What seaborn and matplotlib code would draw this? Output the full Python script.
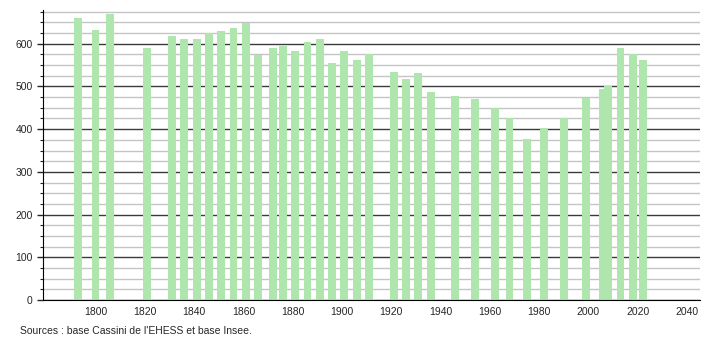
import matplotlib
matplotlib.use("Agg")
import matplotlib.pyplot as plt
import seaborn as sns
import pandas as pd
from matplotlib.ticker import MultipleLocator

years = [1793, 1800, 1806, 1821, 1831, 1836, 1841, 1846, 1851, 1856, 1861,
         1866, 1872, 1876, 1881, 1886, 1891, 1896, 1901, 1906, 1911,
         1921, 1926, 1931, 1936, 1946, 1954, 1962, 1968, 1975, 1982,
         1990, 1999, 2006, 2008, 2013, 2018, 2022]
population = [660, 633, 670, 590, 617, 612, 612, 626, 629, 637, 648,
              573, 591, 594, 584, 605, 612, 556, 584, 563, 577,
              534, 517, 531, 487, 477, 470, 450, 427, 376, 402,
              427, 472, 495, 500, 591, 577, 563]
x_ticks = [1800, 1820, 1840, 1860, 1880, 1900, 1920, 1940, 1960, 1980, 2000, 2020, 2040]
y_ticks = [0, 100, 200, 300, 400, 500, 600]
source_text = "Sources : base Cassini de l'EHESS et base Insee."

df = pd.DataFrame({"year": years, "pop": population})

sns.set_style("white")
plt.rcParams['font.family'] = ['Liberation Sans', 'DejaVu Sans']

fig = plt.figure(figsize=(7.1, 3.4), dpi=100)
ax = fig.add_axes([0.0606, 0.1176, 0.9254, 0.853])

sns.barplot(data=df, x="year", y="pop", native_scale=True, width=1.6,
            color="#aee6ae", saturation=1, ax=ax, errorbar=None, zorder=2,
            linewidth=0, edgecolor="none")

ax.set_xlim(1778.7, 2045.3)
ax.set_ylim(0, 679)
ax.set_xticks(x_ticks)
ax.set_xticklabels([str(t) for t in x_ticks])
ax.set_yticks(y_ticks)
ax.yaxis.set_minor_locator(MultipleLocator(25))
ax.set_axisbelow(True)
ax.grid(axis='y', which='minor', color='#c4c4c4', lw=1)
ax.grid(axis='y', which='major', color='#3a3a3a', lw=1)
ax.grid(axis='x', visible=False)
for s in ['top', 'right']:
    ax.spines[s].set_visible(False)
ax.spines['left'].set_color('black')
ax.spines['bottom'].set_color('black')
ax.tick_params(axis='x', length=0, labelsize=7.5, pad=5)
ax.tick_params(axis='y', which='major', length=4, width=1, labelsize=7.5, left=True, direction='out')
ax.tick_params(axis='y', which='minor', length=2, width=0.8, left=True, direction='out')
ax.set_xlabel("")
ax.set_ylabel("")

fig.text(0.028, 0.012, source_text, fontsize=7.5, ha='left', va='bottom')

fig.savefig("out.png", dpi=100)
